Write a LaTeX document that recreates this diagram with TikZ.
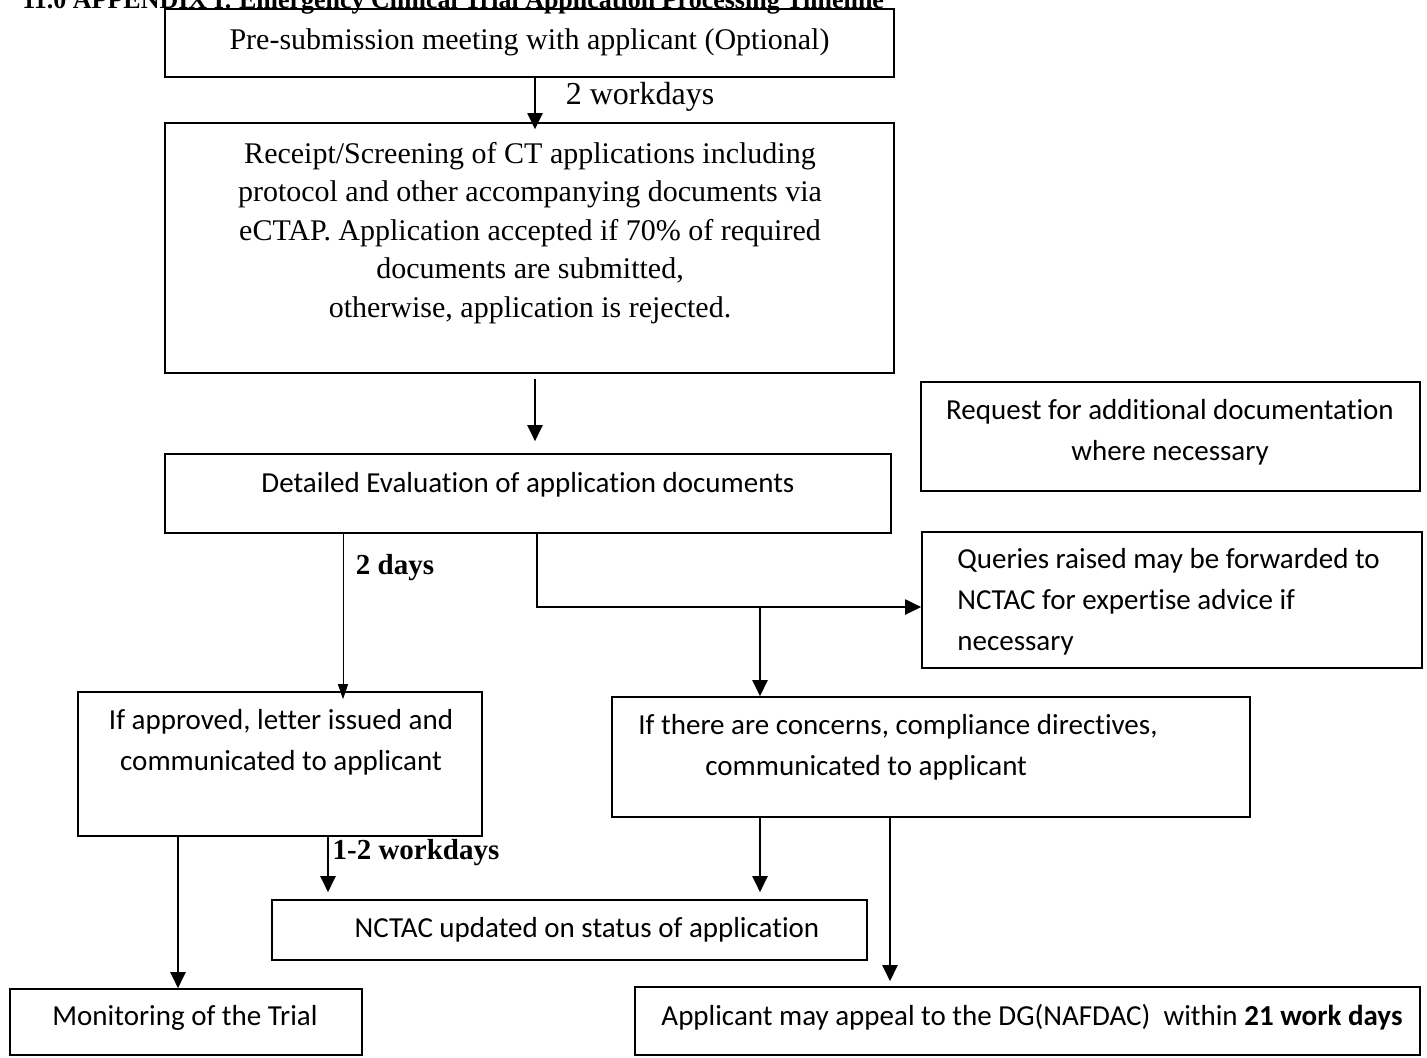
\documentclass[tikz,border=0pt]{standalone}
\usepackage{fontspec}
\setmainfont{Liberation Serif}
\newfontfamily\calibri[Ligatures=NoCommon]{Carlito}
\usepackage{tikz}
\usetikzlibrary{arrows.meta,calc}

\begin{document}
\begin{tikzpicture}[x=0.5pt, y=-0.5pt,
    box/.style={draw, line width=0.8pt, inner sep=0pt},
    serif/.style={font=\fontsize{15}{19.25}\selectfont, align=center, inner sep=0pt},
    sans/.style={font=\calibri\fontsize{14.5}{20.5}\selectfont, align=center, inner sep=0pt},
    lbl/.style={font=\bfseries\fontsize{14.5}{17}\selectfont, inner sep=0pt},
    arr/.style={line width=1pt, -{Triangle[length=8pt, width=7.5pt]}},
    thinarr/.style={line width=0.5pt, -{Triangle[length=7.5pt, width=5pt]}}]
    \useasboundingbox (0,0) rectangle (1427,1057);
    \clip (0,0) rectangle (1427,1057);

    % Title, cut at the top of the page
    \node[anchor=base west, font=\bfseries\fontsize{13}{15}\selectfont, inner sep=0pt] (title) at (22,8)
        {11.0 APPENDIX I: Emergency Clinical Trial Application Processing Timeline};

    % Boxes
    \node[box, minimum width=364.5pt, minimum height=34pt] (pre) at (529.5,43) {};
    \node[box, minimum width=364.5pt, minimum height=125pt] (screen) at (529.5,248) {};
    \node[box, minimum width=363pt, minimum height=39.5pt] (eval) at (528,493.5) {};
    \node[box, minimum width=249.5pt, minimum height=54.5pt] (request) at (1170.5,436.5) {};
    \node[box, minimum width=250pt, minimum height=68pt] (queries) at (1172,600) {};
    \node[box, minimum width=202pt, minimum height=72pt] (approved) at (280,764) {};
    \node[box, minimum width=319pt, minimum height=60pt] (concerns) at (931,757) {};
    \node[box, minimum width=297.5pt, minimum height=30pt] (nctac) at (569.5,930) {};
    \node[box, minimum width=176pt, minimum height=33pt] (monitor) at (186,1022) {};
    \node[box, minimum width=392.5pt, minimum height=34pt] (applicant) at (1027.5,1021) {};

    % Box texts
    \node[serif] (pretxt) at (529.5,42) {Pre-submission meeting with applicant (Optional)};
    \node[serif] (screentxt) at (530,233) {Receipt/Screening of CT applications including\\
        protocol and other accompanying documents via\\
        eCTAP. Application accepted if 70\% of required\\
        documents are submitted,\\
        otherwise, application is rejected.};
    \node[sans] (evaltxt) at (528,485) {Detailed Evaluation of application documents};
    \node[sans] (requesttxt) at (1170,432) {Request for additional documentation\\where necessary};
    \node[sans, align=left, anchor=west] (queriestxt) at (957,601.5) {Queries raised may be forwarded to\\
        NCTAC for expertise advice if\\necessary};
    \node[sans] (approvedtxt) at (281,742.5) {If approved, letter issued and\\communicated to applicant};
    \node[sans, align=left, anchor=west] (concernstxt) at (638,747.5) {If there are concerns, compliance directives,\\
        \hspace*{33.5pt}communicated to applicant};
    \node[sans] (nctactxt) at (587,930) {NCTAC updated on status of application};
    \node[sans] (monitortxt) at (185,1018) {Monitoring of the Trial};
    \node[sans] (applicanttxt) at (1032,1017) {Applicant may appeal to the DG(NAFDAC)\ \ within \textbf{21 work days}};

    % Time labels
    \node[serif, font=\fontsize{16}{19}\selectfont] (wd2) at (640,97) {2 workdays};
    \node[lbl] (d2) at (395,568) {2 days};
    \node[lbl] (wd12) at (416,853) {1-2 workdays};

    % Connectors
    \coordinate (split) at (760,607);
    \coordinate (twodays) at (343,533);
    \coordinate (upd) at (328,836);
    \coordinate (mon) at (178,836);
    \coordinate (cn) at (760,817);
    \coordinate (ca) at (890,817);
    \draw[arr] ([xshift=2.75pt]pre.south) -- ([xshift=2.75pt,yshift=-3.5pt]screen.north);
    \draw[arr] ([xshift=2.75pt,yshift=-2.5pt]screen.south) -- ([xshift=3.5pt,yshift=6pt]eval.north);
    \draw[arr] ([xshift=4.5pt]eval.south) |- ([yshift=-3.5pt]queries.west);
    \draw[arr] (split) -- (split |- concerns.north);
    \draw[thinarr] (twodays) -- ([yshift=-4pt]twodays |- approved.north);
    \draw[arr, shorten >=3.5pt] (upd) -- (upd |- nctac.north);
    \draw[arr] (mon) -- (mon |- monitor.north);
    \draw[arr, shorten >=3.5pt] (cn) -- (cn |- nctac.north);
    \draw[arr, shorten >=2.5pt] (ca) -- (ca |- applicant.north);
\end{tikzpicture}
\end{document}
